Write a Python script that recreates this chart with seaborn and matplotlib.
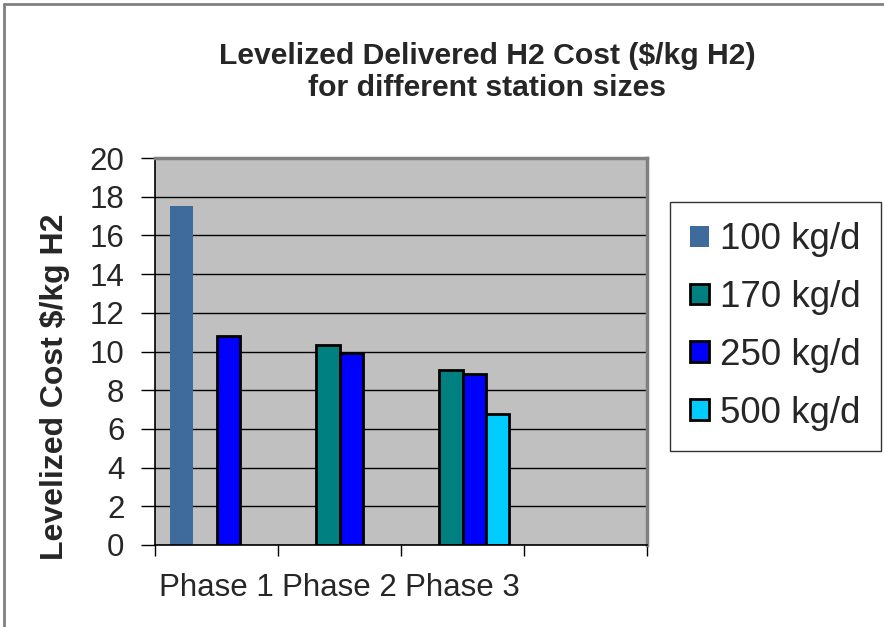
import pandas as pd
import matplotlib.pyplot as plt
import seaborn as sns
from matplotlib.lines import Line2D
from matplotlib.patches import Patch
from matplotlib.ticker import FixedLocator

phases = ["Phase 1", "Phase 2", "Phase 3", ""]
sizes = ["100 kg/d", "170 kg/d", "250 kg/d", "500 kg/d"]
phase_col = ["Phase 1", "Phase 1", "Phase 2", "Phase 2", "Phase 3", "Phase 3", "Phase 3"]
size_col = ["100 kg/d", "250 kg/d", "170 kg/d", "250 kg/d", "170 kg/d", "250 kg/d", "500 kg/d"]
cost = [17.5, 10.8, 10.35, 9.9, 9.05, 8.85, 6.75]
colors = ["#3F6A9C", "#008080", "#0000FF", "#00CCFF"]

df = pd.DataFrame({"phase": phase_col, "size": size_col, "cost": cost})

sns.set_style("white")
plt.rcParams["font.family"] = ["Liberation Sans", "DejaVu Sans"]

fig = plt.figure(figsize=(8.84, 6.27), dpi=100)
ax = fig.add_axes([155 / 884, 1 - 545 / 627, 492 / 884, 387 / 627])

sns.barplot(data=df, x="phase", y="cost", hue="size", order=phases, hue_order=sizes,
            palette=colors, saturation=1, width=0.75, errorbar=None, edgecolor="black",
            linewidth=2, legend=False, ax=ax)

# the 100 kg/d series has no outline
for bar in ax.containers[0]:
    bar.set_edgecolor("none")
    bar.set_linewidth(0)

ax.set_facecolor("#C0C0C0")
ax.set_ylim(0, 20)
ax.set_xlim(-0.5, 3.5)
ax.set_yticks(range(0, 21, 2))
ax.yaxis.grid(True, color="black", linewidth=1)
ax.set_axisbelow(True)

ax.tick_params(axis="y", labelsize=22.5, length=10, width=1, color="black", pad=12, left=True)
ax.tick_params(axis="x", which="major", labelsize=22.5, length=0, pad=20)
ax.xaxis.set_minor_locator(FixedLocator([-0.5, 0.5, 1.5, 2.5, 3.5]))
ax.tick_params(axis="x", which="minor", length=8, width=1, color="black", bottom=True)

for s in ["left", "bottom"]:
    ax.spines[s].set_color("black")
    ax.spines[s].set_linewidth(1.2)
for s in ["top", "right"]:
    ax.spines[s].set_color("#808080")
    ax.spines[s].set_linewidth(2.5)

ax.set_xlabel("")
ax.set_ylabel("Levelized Cost $/kg H2", fontsize=23, fontweight="bold")
ax.yaxis.set_label_coords(-0.172, 0.41)

fig.text(487 / 884, 1 - 72 / 627, "Levelized Delivered H2 Cost ($/kg H2)\nfor different station sizes",
         ha="center", va="center", fontsize=21.7, fontweight="bold", linespacing=1.15)

handles = [Patch(facecolor=colors[0], edgecolor="none")] + \
          [Patch(facecolor=c, edgecolor="black", linewidth=2) for c in colors[1:]]
leg = ax.legend(handles, sizes, loc="upper left", bbox_to_anchor=(670 / 884, 1 - 202 / 627),
                bbox_transform=fig.transFigure, fontsize=26.5, frameon=True, fancybox=False,
                edgecolor="black", handlelength=0.5, handleheight=0.5, handletextpad=0.3,
                labelspacing=0.62, borderpad=0.55, borderaxespad=0)
leg.get_frame().set_linewidth(1)

fig.add_artist(Line2D([4 / 884, 4 / 884], [0, 1 - 4 / 627], color="#808080", linewidth=2))
fig.add_artist(Line2D([4 / 884, 1], [1 - 4 / 627, 1 - 4 / 627], color="#808080", linewidth=2))

fig.savefig("out.png", dpi=100)
